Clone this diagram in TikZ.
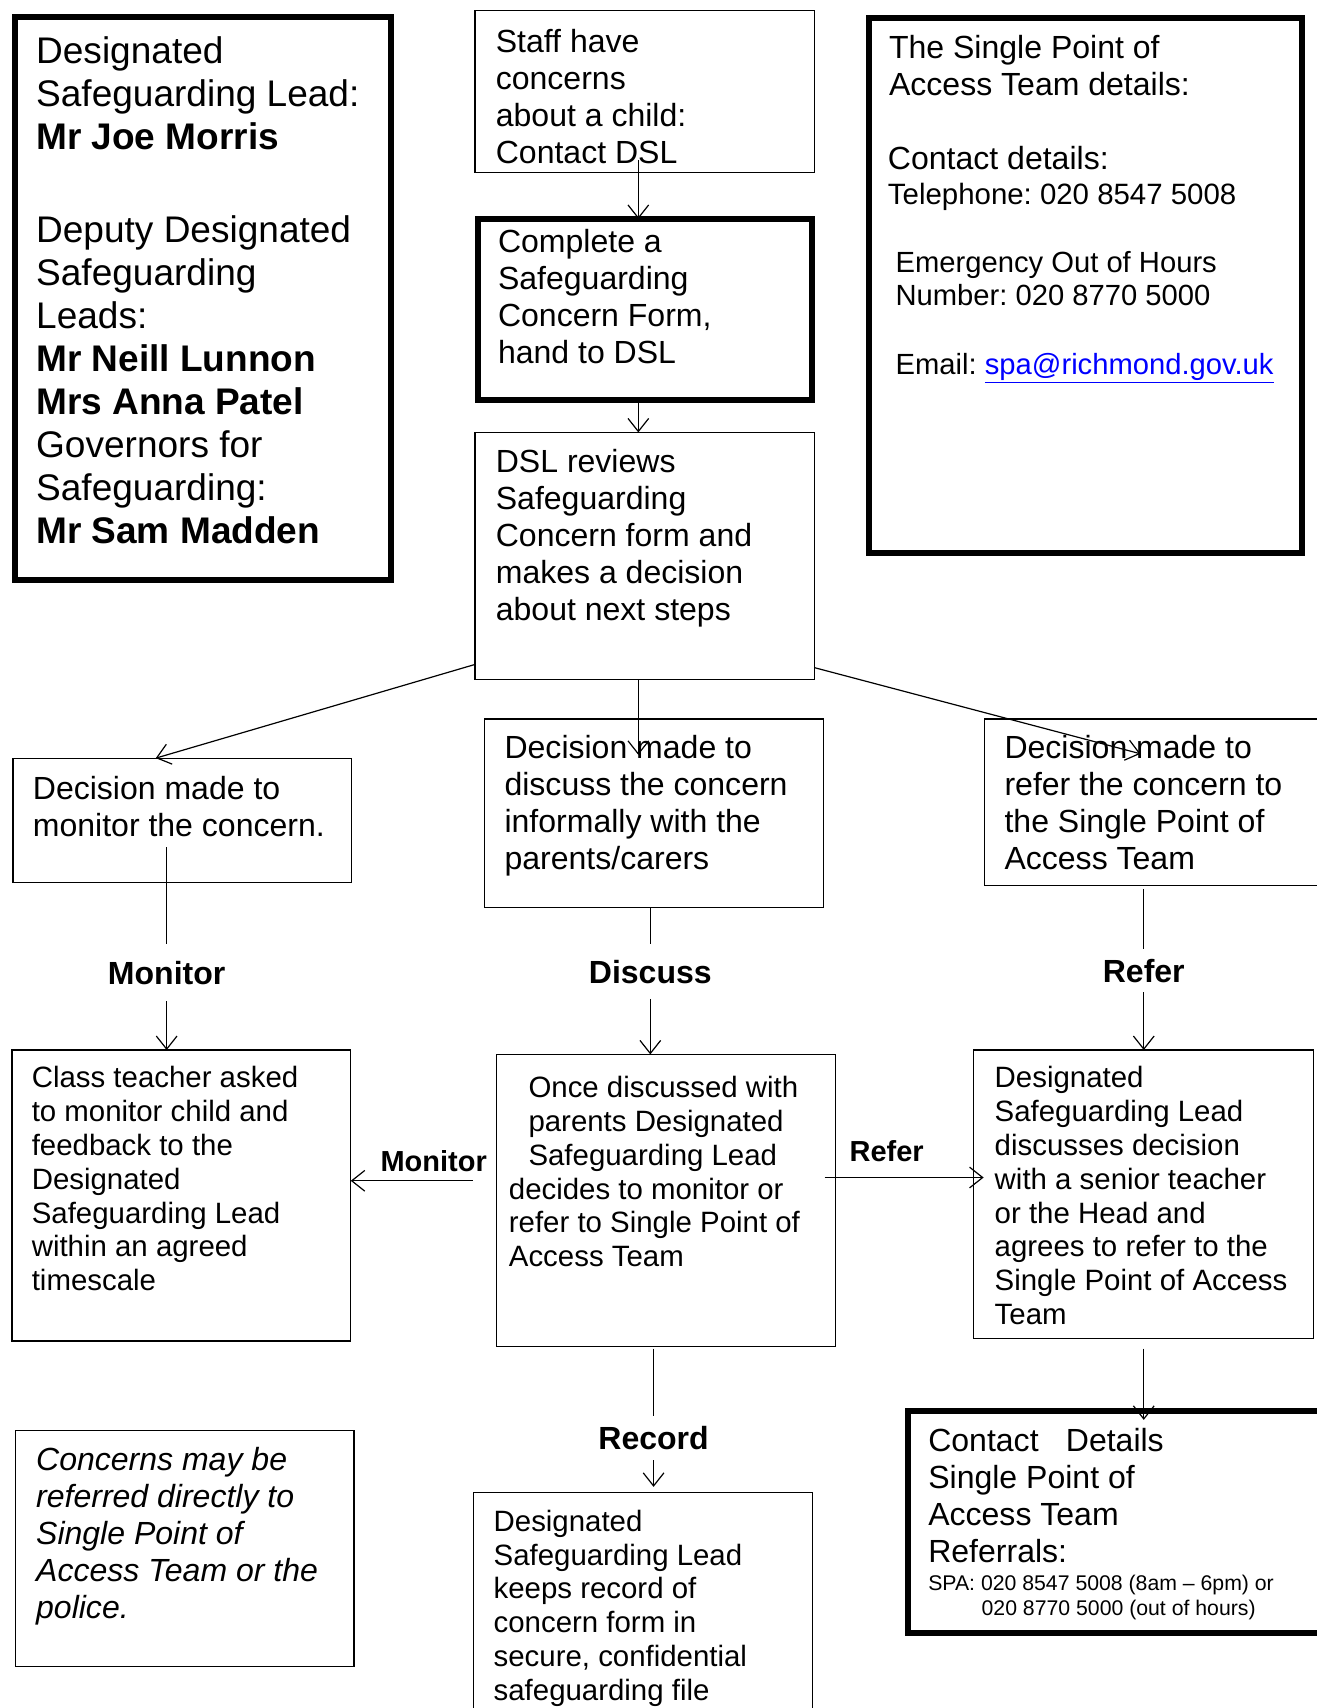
\documentclass[tikz,border=0pt]{standalone}
\usepackage{fontspec}
\setmainfont{Liberation Sans}
\usetikzlibrary{arrows.meta}
\frenchspacing

\tikzset{
  panel/.style={draw, line width=1.1pt, anchor=north west, inner sep=0pt, outer sep=0pt},
  thickpanel/.style={panel, line width=5.5pt},
  txt/.style={anchor=north west, align=left, inner sep=0pt, font=\fontsize{29.4}{34}\selectfont},
  smalltxt/.style={txt, font=\fontsize{27}{31}\selectfont},
  flowlabel/.style={inner xsep=0pt, inner ysep=15pt, font=\bfseries\fontsize{29.4}{34}\selectfont},
  sidelabel/.style={inner sep=0pt, anchor=south, font=\bfseries\fontsize{26.6}{30}\selectfont},
  conn/.style={line width=1.1pt},
  arr/.style={conn, -{Straight Barb[length=12pt,width=19pt]}}
}

\begin{document}
\begin{tikzpicture}[x=1pt, y=-1pt]
\useasboundingbox (0,0) rectangle (1209,1568);

% boxes
\node[thickpanel, minimum width=345pt, minimum height=517pt] (dsl) at (13.5,15.5) {};
\node[panel, minimum width=312pt, minimum height=148pt] (staff) at (436,10) {};
\node[thickpanel, minimum width=306pt, minimum height=166pt] (complete) at (439,201) {};
\node[panel, minimum width=312pt, minimum height=227pt] (review) at (436,397) {};
\node[thickpanel, minimum width=398pt, minimum height=491pt] (spa) at (797.5,16.5) {};
\node[panel, minimum width=311pt, minimum height=114pt] (monitor) at (12,696) {};
\node[panel, minimum width=311pt, minimum height=173pt] (discuss) at (445,660) {};
\node[panel, minimum width=320pt, minimum height=153pt] (refer) at (904,660) {};
\node[panel, minimum width=311pt, minimum height=267pt] (classt) at (11,964) {};
\node[panel, minimum width=311pt, minimum height=268pt] (once) at (456,968) {};
\node[panel, minimum width=312pt, minimum height=265pt] (dslref) at (894,964) {};
\node[panel, minimum width=311pt, minimum height=217pt] (direct) at (14,1313) {};
\node[panel, minimum width=311pt, minimum height=230pt] (record) at (435,1370) {};
\node[thickpanel, minimum width=400pt, minimum height=204pt] (contact) at (833.5,1295.5) {};

% texts
\node[txt, font=\fontsize{34}{39.5}\selectfont] (dsl-t) at (33,33) {Designated\\Safeguarding Lead:\\\textbf{Mr Joe Morris}\\[46pt]Deputy Designated\\Safeguarding\\Leads:\\\textbf{Mr Neill Lunnon}\\\textbf{Mrs Anna Patel}\\Governors for\\Safeguarding:\\\textbf{Mr Sam Madden}};
\node[txt] (staff-t) at (455,27) {Staff have\\concerns\\about a child:\\Contact DSL};
\node[txt] (complete-t) at (457,210) {Complete a\\Safeguarding\\Concern Form,\\hand to DSL};
\node[txt] (review-t) at (455,412) {DSL reviews\\Safeguarding\\Concern form and\\makes a decision\\about next steps};
\node[txt] (spa-a) at (816,32) {The Single Point of\\Access Team details:};
\node[txt, font=\fontsize{29.4}{32}\selectfont] (spa-b) at (815,134) {Contact details:\\{\fontsize{27}{32}\selectfont Telephone: 020 8547 5008}};
\node[txt, font=\fontsize{26.8}{30}\selectfont] (spa-c) at (822,231) {Emergency Out of Hours\\Number: 020 8770 5000};
\node[txt, font=\fontsize{26.8}{30}\selectfont] (spa-d) at (822,324) {Email: \textcolor{blue}{\underline{spa@richmond.gov.uk}}};
\node[txt] (monitor-t) at (30,712) {Decision made to\\monitor the concern.};
\node[txt] (discuss-t) at (463,675) {Decision made to\\discuss the concern\\informally with the\\parents/carers};
\node[txt] (refer-t) at (922,675) {Decision made to\\refer the concern to\\the Single Point of\\Access Team};
\node[smalltxt] (classt-t) at (29,979) {Class teacher asked\\to monitor child and\\feedback to the\\Designated\\Safeguarding Lead\\within an agreed\\timescale};
\node[smalltxt] (once-t) at (467,988) {\hspace*{18pt}Once discussed with\\\hspace*{18pt}parents Designated\\\hspace*{18pt}Safeguarding Lead\\decides to monitor or\\refer to Single Point of\\Access Team};
\node[smalltxt] (dslref-t) at (913,979) {Designated\\Safeguarding Lead\\discusses decision\\with a senior teacher\\or the Head and\\agrees to refer to the\\Single Point of Access\\Team};
\node[txt, font=\itshape\fontsize{29.4}{34}\selectfont] (direct-t) at (33,1328) {Concerns may be\\referred directly to\\Single Point of\\Access Team or the\\police.};
\node[smalltxt] (record-t) at (453,1386) {Designated\\Safeguarding Lead\\keeps record of\\concern form in\\secure, confidential\\safeguarding file};
\node[txt] (contact-a) at (852,1311) {Contact\hspace{25pt}Details\\Single Point of\\Access Team\\Referrals:};
\node[txt, font=\fontsize{19.5}{23}\selectfont] (contact-b) at (852,1446) {SPA: 020 8547 5008 (8am -- 6pm) or\\\hspace*{49pt}020 8770 5000 (out of hours)};

% flow labels
\node[flowlabel] (monlbl) at (153,893) {Monitor};
\node[flowlabel, inner ysep=14pt] (dislbl) at (597,892) {Discuss};
\node[flowlabel, inner ysep=9pt] (reflbl) at (1050,891) {Refer};
\node[flowlabel, inner ysep=9.5pt] (reclbl) at (600,1320) {Record};

% connectors
\draw[arr] ([xshift=-6pt,yshift=11pt]staff.south) -- ([xshift=-6pt]complete.north);
\draw[arr] ([xshift=-6pt]complete.south) -- ([xshift=-6pt]review.north);
\draw[arr] ([yshift=14pt]review.south west) -- ([xshift=-24.5pt]monitor.north);
\draw[arr] ([xshift=-6pt]review.south) -- ([xshift=-14.5pt,yshift=-33pt]discuss.north);
\draw[arr] ([yshift=11pt]review.south east) -- ([xshift=143pt,yshift=-32pt]refer.north west);

\draw[conn] ([xshift=-14.5pt,yshift=32pt]monitor.south) -- (monlbl);
\draw[arr] (monlbl) -- ([xshift=-13.5pt]classt.north);
\draw[conn] ([xshift=-3.5pt]discuss.south) -- (dislbl);
\draw[arr] (dislbl) -- ([xshift=-14.5pt]once.north);
\draw[conn] ([xshift=-14pt,yshift=-3pt]refer.south) -- (reflbl);
\draw[arr] (reflbl) -- (dslref.north);
\draw[conn] ([xshift=-11.5pt,yshift=-2pt]once.south) -- (reclbl);
\draw[arr] (reclbl) -- ([xshift=9.5pt,yshift=5pt]record.north);

\draw[arr] ([xshift=-22pt,yshift=18pt]once.west) -- ([yshift=13.5pt]classt.east)
  node[sidelabel, pos=0.32, yshift=7.5pt] (monlbl2) {Monitor};
\draw[arr] ([xshift=-10pt,yshift=21pt]once.east) -- ([xshift=9pt,yshift=15.5pt]dslref.west)
  node[sidelabel, pos=0.39, yshift=13.5pt] (reflbl2) {Refer};
\draw[arr] ([yshift=-9pt]dslref.south) -- ([xshift=16.5pt,yshift=-8pt]contact.north);
\end{tikzpicture}
\end{document}
